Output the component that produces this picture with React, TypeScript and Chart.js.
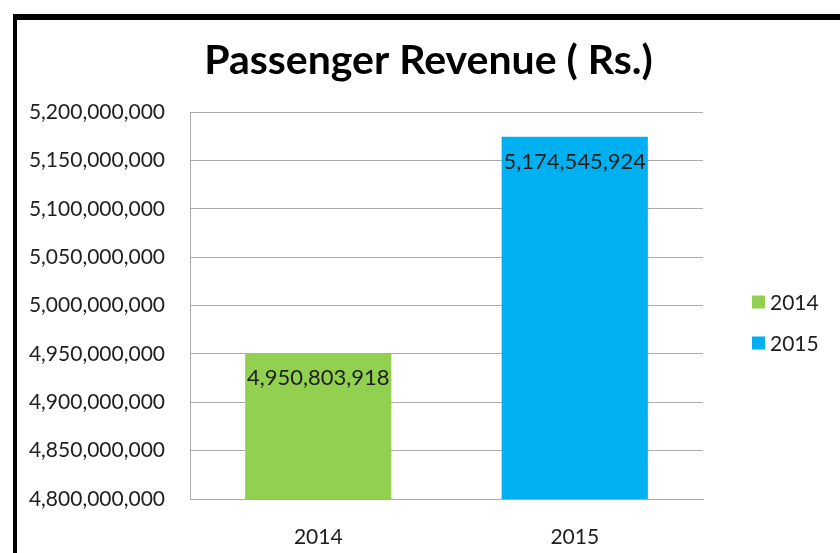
import React, { useEffect, useRef } from "react";
import { Chart, registerables } from "chart.js";

Chart.register(...registerables);

const categories: string[] = ["2014", "2015"];
const revenue: number[] = [4950803918, 5174545924];
const barColors: string[] = ["#92D050", "#00B0F0"];
const yMin = 4800000000;
const yMax = 5200000000;
const yStep = 50000000;
const titleText = "Passenger Revenue ( Rs.)";

const FONT = "Lato, 'Open Sans', sans-serif";
const TEXT = "#1e1e1e";
const GRID = "#ababab";

const fmt = (v: number) => Math.round(v).toLocaleString("en-US");

const valueLabels = {
  id: "valueLabels",
  afterDatasetsDraw(chart: any) {
    const ctx = chart.ctx;
    const meta = chart.getDatasetMeta(0);
    ctx.save();
    ctx.font = `22px ${FONT}`;
    ctx.fillStyle = TEXT;
    ctx.textAlign = "center";
    ctx.textBaseline = "middle";
    meta.data.forEach((el: any, i: number) => {
      const v = chart.data.datasets[0].data[i] as number;
      ctx.fillText(fmt(v), el.x, el.y + 25);
    });
    ctx.restore();
  },
};

const sideLegend = {
  id: "sideLegend",
  afterDraw(chart: any) {
    const ctx = chart.ctx;
    const labels = chart.data.labels as string[];
    const colors = chart.data.datasets[0].backgroundColor as string[];
    const x = chart.chartArea.right + 49;
    const y0 = 302;
    const gap = 41;
    ctx.save();
    ctx.font = `21px ${FONT}`;
    ctx.textAlign = "left";
    ctx.textBaseline = "middle";
    labels.forEach((lab, i) => {
      const cy = y0 + i * gap;
      ctx.fillStyle = colors[i];
      ctx.fillRect(x, cy - 6.5, 13, 13);
      ctx.fillStyle = TEXT;
      ctx.fillText(lab, x + 18, cy + 1);
    });
    ctx.restore();
  },
};

export default function App() {
  const ref = useRef<HTMLCanvasElement | null>(null);

  useEffect(() => {
    if (!ref.current) return;
    const chart = new Chart(ref.current, {
      type: "bar",
      data: {
        labels: categories,
        datasets: [
          {
            label: "Passenger Revenue",
            data: revenue,
            backgroundColor: barColors,
            borderWidth: 0,
            barPercentage: 0.57,
            categoryPercentage: 1,
          },
        ],
      },
      options: {
        responsive: false,
        animation: false,
        layout: { padding: { left: 17, right: 0, top: 0, bottom: 0 } },
        plugins: {
          legend: { display: false },
          tooltip: { enabled: false },
          title: {
            display: true,
            text: titleText,
            color: "#000",
            font: { family: FONT, size: 41, weight: "bold", lineHeight: 1.2 },
            padding: { top: 36, bottom: 26.8 },
          },
        },
        scales: {
          x: {
            grid: { display: false },
            border: { display: true, color: GRID, width: 1 },
            ticks: { color: TEXT, font: { family: FONT, size: 21 }, padding: 18 },
            afterFit: (s: any) => {
              s.height = 54;
            },
          },
          y: {
            min: yMin,
            max: yMax,
            grid: { color: GRID, lineWidth: 1, drawTicks: false },
            border: { display: true, color: GRID, width: 1 },
            ticks: {
              stepSize: yStep,
              color: TEXT,
              font: { family: FONT, size: 21 },
              padding: 25,
              callback: (v: any) => fmt(Number(v)),
            },
            afterFit: (s: any) => {
              s.width = 173;
            },
          },
          pad: {
            type: "linear",
            position: "right",
            display: true,
            grid: { display: false },
            border: { display: false },
            ticks: { display: false },
            afterFit: (s: any) => {
              s.width = 137;
            },
          },
        },
      },
      plugins: [valueLabels, sideLegend],
    } as any);
    return () => chart.destroy();
  }, []);

  return (
    <div style={{ position: "absolute", left: 0, top: 0, width: 840, height: 553, background: "#fff", overflow: "hidden" }}>
      <div
        style={{
          position: "absolute",
          left: 13,
          top: 14,
          width: 840,
          height: 553,
          borderTop: "6px solid #000",
          borderLeft: "4px solid #000",
          boxSizing: "border-box",
        }}
      />
      <canvas ref={ref} width={840} height={553} style={{ position: "absolute", left: 0, top: 0 }} />
    </div>
  );
}
